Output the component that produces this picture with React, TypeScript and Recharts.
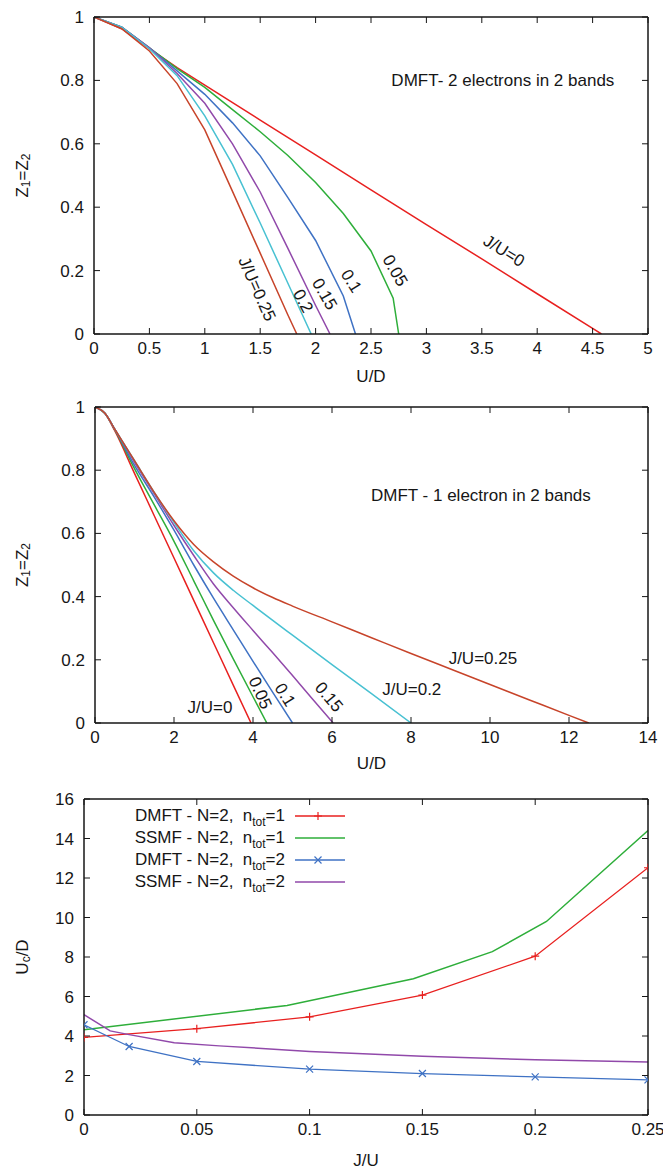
import React from 'react';
import { LineChart, Line, XAxis, YAxis, ReferenceDot, Legend } from 'recharts';

const FONT = '"Liberation Sans", Arial, Helvetica, sans-serif';

type Pt = [number, number];

// ---- Panel 1: DMFT, 2 electrons in 2 bands — [U/D, Z]
const P1_J000: Pt[] = [[0, 1], [0.25, 0.963], [0.5, 0.9], [0.75, 0.84], [1.0, 0.785], [1.5, 0.675], [2.0, 0.565], [2.5, 0.455], [3.0, 0.345], [3.5, 0.237], [4.0, 0.127], [4.5, 0.018], [4.58, 0]];
const P1_J005: Pt[] = [[0, 1], [0.25, 0.968], [0.5, 0.903], [0.75, 0.837], [1.0, 0.778], [1.25, 0.708], [1.5, 0.638], [1.75, 0.563], [2.0, 0.478], [2.25, 0.38], [2.5, 0.262], [2.7, 0.113], [2.75, 0]];
const P1_J010: Pt[] = [[0, 1], [0.25, 0.968], [0.5, 0.903], [0.75, 0.83], [1.0, 0.756], [1.25, 0.666], [1.5, 0.562], [1.75, 0.43], [2.0, 0.295], [2.25, 0.12], [2.36, 0]];
const P1_J015: Pt[] = [[0, 1], [0.25, 0.968], [0.5, 0.903], [0.75, 0.822], [1.0, 0.728], [1.25, 0.6], [1.5, 0.448], [1.75, 0.27], [2.0, 0.09], [2.13, 0]];
const P1_J020: Pt[] = [[0, 1], [0.25, 0.968], [0.5, 0.9], [0.75, 0.815], [1.0, 0.688], [1.25, 0.535], [1.5, 0.35], [1.75, 0.16], [1.96, 0]];
const P1_J025: Pt[] = [[0, 1], [0.25, 0.963], [0.5, 0.893], [0.75, 0.79], [1.0, 0.644], [1.25, 0.45], [1.5, 0.255], [1.75, 0.06], [1.83, 0]];

// ---- Panel 2: DMFT, 1 electron in 2 bands — [U/D, Z]
const P2_J000: Pt[] = [[0, 1], [0.25, 0.98], [0.5, 0.925], [1.0, 0.79], [1.5, 0.656], [2.0, 0.522], [2.5, 0.388], [3.0, 0.254], [3.5, 0.12], [3.95, 0]];
const P2_J005: Pt[] = [[0, 1], [0.25, 0.98], [0.5, 0.928], [1.0, 0.805], [1.5, 0.69], [2.0, 0.575], [2.5, 0.45], [3.0, 0.325], [3.5, 0.203], [4.0, 0.083], [4.35, 0]];
const P2_J010: Pt[] = [[0, 1], [0.25, 0.98], [0.5, 0.93], [1.0, 0.815], [1.5, 0.715], [2.0, 0.61], [2.5, 0.5], [3.0, 0.395], [3.5, 0.295], [4.0, 0.195], [4.5, 0.097], [5.0, 0]];
const P2_J015: Pt[] = [[0, 1], [0.25, 0.98], [0.5, 0.93], [1.0, 0.825], [1.5, 0.725], [2.0, 0.625], [2.5, 0.53], [3.0, 0.44], [3.5, 0.365], [4.0, 0.293], [4.5, 0.222], [5.0, 0.15], [5.5, 0.077], [6.03, 0]];
const P2_J020: Pt[] = [[0, 1], [0.25, 0.98], [0.5, 0.93], [1.0, 0.83], [1.5, 0.73], [2.0, 0.635], [2.5, 0.545], [3.0, 0.475], [3.5, 0.42], [4.0, 0.372], [5.0, 0.278], [6.0, 0.185], [7.0, 0.093], [8.0, 0]];
const P2_J025: Pt[] = [[0, 1], [0.25, 0.98], [0.5, 0.93], [1.0, 0.83], [1.5, 0.73], [2.0, 0.64], [2.5, 0.565], [3.0, 0.51], [3.5, 0.465], [4.0, 0.428], [4.5, 0.397], [5.0, 0.37], [6.0, 0.32], [7.0, 0.27], [8.0, 0.22], [9.0, 0.171], [10.0, 0.122], [11.0, 0.073], [12.0, 0.024], [12.5, 0]];

// ---- Panel 3: critical interaction Uc/D vs J/U
const P3_DMFT_N1: Pt[] = [[0, 3.93], [0.05, 4.37], [0.1, 4.97], [0.15, 6.07], [0.2, 8.04], [0.25, 12.52]];
const P3_SSMF_N1: Pt[] = [[0, 4.31], [0.09, 5.55], [0.146, 6.9], [0.181, 8.27], [0.205, 9.8], [0.25, 14.4]];
const P3_DMFT_N2: Pt[] = [[0, 4.57], [0.02, 3.47], [0.05, 2.71], [0.1, 2.32], [0.15, 2.1], [0.2, 1.93], [0.25, 1.78]];
const P3_SSMF_N2: Pt[] = [[0, 5.08], [0.0116, 4.26], [0.02, 4.07], [0.04, 3.66], [0.06, 3.5], [0.1, 3.22], [0.15, 2.97], [0.2, 2.8], [0.25, 2.68]];
const P3_NAMES = ['DMFT - N=2,  n_tot=1', 'SSMF - N=2,  n_tot=1', 'DMFT - N=2,  n_tot=2', 'SSMF - N=2,  n_tot=2'];

// Tick values
const P1_XTICKS = [0, 0.5, 1, 1.5, 2, 2.5, 3, 3.5, 4, 4.5, 5];
const P1_YTICKS = [0, 0.2, 0.4, 0.6, 0.8, 1];
const P2_XTICKS = [0, 2, 4, 6, 8, 10, 12, 14];
const P2_YTICKS = [0, 0.2, 0.4, 0.6, 0.8, 1];
const P3_XTICKS = [0, 0.05, 0.1, 0.15, 0.2, 0.25];
const P3_YTICKS = [0, 2, 4, 6, 8, 10, 12, 14, 16];

// Curve annotations (data coordinates)
const P1_NOTES = [
  { x: 3.69, y: 0.8, text: 'DMFT- 2 electrons in 2 bands', angle: 0 },
  { x: 3.7, y: 0.262, text: 'J/U=0', angle: 32 },
  { x: 2.716, y: 0.2, text: '0.05', angle: 60 },
  { x: 2.32, y: 0.167, text: '0.1', angle: 58 },
  { x: 2.08, y: 0.126, text: '0.15', angle: 60 },
  { x: 1.886, y: 0.104, text: '0.2', angle: 62 },
  { x: 1.47, y: 0.142, text: 'J/U=0.25', angle: 66 },
];
const P2_NOTES = [
  { x: 9.77, y: 0.72, text: 'DMFT - 1 electron in 2 bands', angle: 0 },
  { x: 2.91, y: 0.049, text: 'J/U=0', angle: 0 },
  { x: 4.18, y: 0.095, text: '0.05', angle: 66 },
  { x: 4.81, y: 0.089, text: '0.1', angle: 58 },
  { x: 5.92, y: 0.082, text: '0.15', angle: 50 },
  { x: 8.02, y: 0.105, text: 'J/U=0.2', angle: 0 },
  { x: 9.82, y: 0.203, text: 'J/U=0.25', angle: 0 },
];

const C = {
  red: '#e8201f',
  green: '#2eae3a',
  blue: '#3f72c4',
  purple: '#9149aa',
  cyan: '#48c1d2',
  brown: '#c7442a',
};

const toRows = (pts: Pt[]) => pts.map(([x, y]) => ({ x, y }));

const INK = '#161616';
const tickStyle = { fontSize: 17, fill: INK, fontFamily: FONT };
const axisLineStyle = { stroke: INK, strokeWidth: 1.5 };
const tickLineStyle = { stroke: INK, strokeWidth: 1 };
const noLabel = (p: any) => <g key={`n-${p.index}`} />;

const noteLabel = (n: { text: string; angle: number }) => ({
  content: (p: any) => {
    const vb = p.viewBox || {};
    const cx = (vb.x || 0) + (vb.width || 0) / 2;
    const cy = (vb.y || 0) + (vb.height || 0) / 2;
    return (
      <text
        x={cx}
        y={cy}
        textAnchor="middle"
        dominantBaseline="central"
        transform={n.angle ? `rotate(${n.angle} ${cx} ${cy})` : undefined}
        fontSize={17}
        fill={INK}
        fontFamily={FONT}
      >
        {n.text}
      </text>
    );
  },
});

const yTitle = (main: string, sub: string, rest: string, sub2?: string) => ({
  content: (p: any) => {
    const vb = p.viewBox || {};
    const cx = 22;
    const cy = (vb.y || 0) + (vb.height || 0) / 2;
    return (
      <text
        x={cx}
        y={cy}
        textAnchor="middle"
        dominantBaseline="central"
        transform={`rotate(-90 ${cx} ${cy})`}
        fontSize={17}
        fill={INK}
        fontFamily={FONT}
      >
        <tspan>{main}</tspan>
        <tspan fontSize={12} dy={4}>{sub}</tspan>
        <tspan dy={-4}>{rest}</tspan>
        {sub2 ? <tspan fontSize={12} dy={4}>{sub2}</tspan> : null}
      </text>
    );
  },
});

const xTitle = (text: string, dyFromAxis: number) => ({
  content: (p: any) => {
    const vb = p.viewBox || {};
    const cx = (vb.x || 0) + (vb.width || 0) / 2;
    const cy = (vb.y || 0) + dyFromAxis;
    return (
      <text x={cx} y={cy} textAnchor="middle" dominantBaseline="central" fontSize={17} fill={INK} fontFamily={FONT}>
        {text}
      </text>
    );
  },
});

// Four-sided frame with inward ticks (gnuplot style)
function frame(opts: {
  xDomain: [number, number];
  xTicks: number[];
  yDomain: [number, number];
  yTicks: number[];
  yWidth: number;
  topH: number;
  bottomH: number;
  rightW: number;
  xLabel: any;
  yLabel: any;
}) {
  return [
    <XAxis
      key="xb"
      xAxisId={0}
      type="number"
      dataKey="x"
      domain={opts.xDomain}
      ticks={opts.xTicks}
      allowDataOverflow
      height={opts.bottomH}
      tickSize={-6}
      tickMargin={14}
      tick={tickStyle}
      axisLine={axisLineStyle}
      tickLine={tickLineStyle}
      interval={0}
      label={opts.xLabel}
    />,
    <XAxis
      key="xt"
      xAxisId="top"
      orientation="top"
      type="number"
      dataKey="x"
      domain={opts.xDomain}
      ticks={opts.xTicks}
      allowDataOverflow
      height={opts.topH}
      tickSize={-6}
      tick={noLabel}
      axisLine={axisLineStyle}
      tickLine={tickLineStyle}
      interval={0}
    />,
    <YAxis
      key="yl"
      yAxisId={0}
      type="number"
      domain={opts.yDomain}
      ticks={opts.yTicks}
      allowDataOverflow
      width={opts.yWidth}
      tickSize={-6}
      tickMargin={16}
      tick={tickStyle}
      axisLine={axisLineStyle}
      tickLine={tickLineStyle}
      interval={0}
      label={opts.yLabel}
    />,
    <YAxis
      key="yr"
      yAxisId="right"
      orientation="right"
      type="number"
      domain={opts.yDomain}
      ticks={opts.yTicks}
      allowDataOverflow
      width={opts.rightW}
      tickSize={-6}
      tick={noLabel}
      axisLine={axisLineStyle}
      tickLine={tickLineStyle}
      interval={0}
    />,
  ];
}

const plusDot = (color: string) => (p: any) => {
  const { cx, cy, index } = p;
  if (cx == null || cy == null) return <g key={`p-${index}`} />;
  return <path key={`p-${index}`} d={`M${cx - 4},${cy}h8M${cx},${cy - 4}v8`} stroke={color} strokeWidth={1.2} fill="none" />;
};
const crossDot = (color: string) => (p: any) => {
  const { cx, cy, index } = p;
  if (cx == null || cy == null) return <g key={`c-${index}`} />;
  return <path key={`c-${index}`} d={`M${cx - 3.5},${cy - 3.5}l7,7M${cx - 3.5},${cy + 3.5}l7,-7`} stroke={color} strokeWidth={1.2} fill="none" />;
};

const LegendContent = (props: any) => {
  const items = (props.payload || [])
    .filter((it: any) => P3_NAMES.indexOf(it.value) >= 0)
    .slice()
    .sort((a: any, b: any) => P3_NAMES.indexOf(a.value) - P3_NAMES.indexOf(b.value));
  return (
    <div style={{ fontFamily: FONT, fontSize: 17, color: INK }}>
      {items.map((it: any, i: number) => {
        const name: string = it.value;
        const [head, tail] = name.split('_tot');
        const marker = it.payload && it.payload.legendMarker;
        return (
          <div key={i} style={{ display: 'flex', alignItems: 'center', height: 22 }}>
            <span style={{ width: 185, textAlign: 'right', whiteSpace: 'pre', lineHeight: '22px' }}>
              {head}
              <span style={{ fontSize: 12, position: 'relative', top: 5 }}>tot</span>
              {tail}
            </span>
            <svg width={70} height={22} style={{ display: 'block' }}>
              <line x1={10} x2={60} y1={11} y2={11} stroke={it.color} strokeWidth={1.5} />
              {marker === 'plus' ? <path d="M29,11h8M33,7v8" stroke={it.color} strokeWidth={1.2} /> : null}
              {marker === 'cross' ? <path d="M29.5,7.5l7,7M29.5,14.5l7,-7" stroke={it.color} strokeWidth={1.2} /> : null}
            </svg>
          </div>
        );
      })}
    </div>
  );
};

const P1_SERIES = [
  { data: P1_J000, color: C.red },
  { data: P1_J005, color: C.green },
  { data: P1_J010, color: C.blue },
  { data: P1_J015, color: C.purple },
  { data: P1_J020, color: C.cyan },
  { data: P1_J025, color: C.brown },
];
const P2_SERIES = [
  { data: P2_J000, color: C.red },
  { data: P2_J005, color: C.green },
  { data: P2_J010, color: C.blue },
  { data: P2_J015, color: C.purple },
  { data: P2_J020, color: C.cyan },
  { data: P2_J025, color: C.brown },
];

export default function App() {
  return (
    <div style={{ position: 'absolute', left: 0, top: 0, width: 663, height: 1169, background: '#fff', fontFamily: FONT }}>
      {/* Panel 1 */}
      <div style={{ position: 'absolute', left: 0, top: 0 }}>
        <LineChart width={663} height={390} margin={{ top: 0, right: 0, bottom: 0, left: 0 }} style={{ fontFamily: FONT }}>
          {frame({
            xDomain: [0, 5], xTicks: P1_XTICKS, yDomain: [0, 1], yTicks: P1_YTICKS,
            yWidth: 94, topH: 17, bottomH: 56, rightW: 15,
            xLabel: xTitle('U/D', 42), yLabel: yTitle('Z', '1', '=Z', '2'),
          })}
          {P1_SERIES.map((s, i) => (
            <Line key={i} data={toRows(s.data)} dataKey="y" type="linear" stroke={s.color} strokeWidth={1.5} dot={false} isAnimationActive={false} />
          ))}
          {P1_NOTES.map((n, i) => (
            <ReferenceDot key={`n${i}`} x={n.x} y={n.y} r={0} fill="none" stroke="none" label={noteLabel(n)} />
          ))}
        </LineChart>
      </div>

      {/* Panel 2 */}
      <div style={{ position: 'absolute', left: 0, top: 390 }}>
        <LineChart width={663} height={390} margin={{ top: 0, right: 0, bottom: 0, left: 0 }} style={{ fontFamily: FONT }}>
          {frame({
            xDomain: [0, 14], xTicks: P2_XTICKS, yDomain: [0, 1], yTicks: P2_YTICKS,
            yWidth: 95, topH: 17, bottomH: 57, rightW: 15,
            xLabel: xTitle('U/D', 40), yLabel: yTitle('Z', '1', '=Z', '2'),
          })}
          {P2_SERIES.map((s, i) => (
            <Line key={i} data={toRows(s.data)} dataKey="y" type="monotone" stroke={s.color} strokeWidth={1.5} dot={false} isAnimationActive={false} />
          ))}
          {P2_NOTES.map((n, i) => (
            <ReferenceDot key={`n${i}`} x={n.x} y={n.y} r={0} fill="none" stroke="none" label={noteLabel(n)} />
          ))}
        </LineChart>
      </div>

      {/* Panel 3 */}
      <div style={{ position: 'absolute', left: 0, top: 780 }}>
        <LineChart width={663} height={389} margin={{ top: 0, right: 0, bottom: 0, left: 0 }} style={{ fontFamily: FONT }}>
          {frame({
            xDomain: [0, 0.25], xTicks: P3_XTICKS, yDomain: [0, 16], yTicks: P3_YTICKS,
            yWidth: 84, topH: 19, bottomH: 54, rightW: 15,
            xLabel: xTitle('J/U', 45), yLabel: yTitle('U', 'c', '/D'),
          })}
          <Line name={P3_NAMES[0]} data={toRows(P3_DMFT_N1)} dataKey="y" type="linear" stroke={C.red} strokeWidth={1.3} dot={plusDot(C.red)} isAnimationActive={false} legendMarker="plus" />
          <Line name={P3_NAMES[1]} data={toRows(P3_SSMF_N1)} dataKey="y" type="linear" stroke={C.green} strokeWidth={1.5} dot={false} isAnimationActive={false} />
          <Line name={P3_NAMES[2]} data={toRows(P3_DMFT_N2)} dataKey="y" type="linear" stroke={C.blue} strokeWidth={1.3} dot={crossDot(C.blue)} isAnimationActive={false} legendMarker="cross" />
          <Line name={P3_NAMES[3]} data={toRows(P3_SSMF_N2)} dataKey="y" type="linear" stroke={C.purple} strokeWidth={1.5} dot={false} isAnimationActive={false} />
          <Legend
            layout="vertical"
            align="center"
            verticalAlign="middle"
            content={LegendContent}
            wrapperStyle={{ top: 25, left: 100, width: 270, height: 88 }}
          />
        </LineChart>
      </div>
    </div>
  );
}
